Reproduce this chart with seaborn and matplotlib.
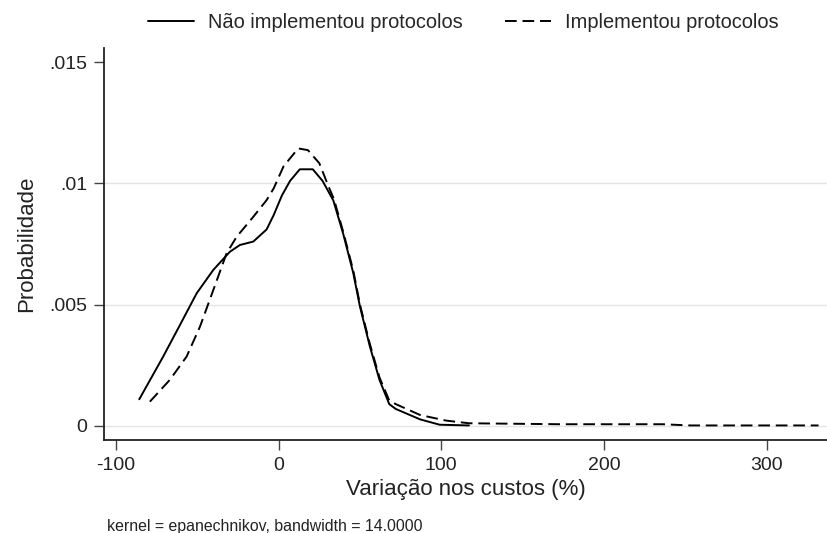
import numpy as np
import pandas as pd
import matplotlib
matplotlib.use("Agg")
import matplotlib.pyplot as plt
import seaborn as sns

# Kernel density estimates of cost variation (%) by protocol implementation
nao_x = [-85.7, -71.0, -60.7, -50.4, -40.2, -30.0, -23.8, -15.6, -7.4, -3.0, 2.0,
         7.0, 13.0, 21.0, 27.0, 33.6, 39.7, 45.9, 50.0, 56.0, 62.0, 68.0, 72.0,
         87.0, 99.0, 117.0]
nao_y = [0.00110, 0.00286, 0.00416, 0.00547, 0.00643, 0.00718, 0.00746, 0.00760,
         0.00810, 0.00870, 0.00950, 0.01010, 0.01058, 0.01058, 0.01010, 0.00930,
         0.00792, 0.00630, 0.00492, 0.00330, 0.00190, 0.00090, 0.00070, 0.00027,
         0.00005, 0.00002]

impl_x = [-79.2, -66.9, -56.6, -48.4, -40.2, -32.0, -25.8, -15.6, -7.4, -3.0, 3.0,
          12.0, 18.0, 25.0, 30.5, 34.0, 39.7, 45.9, 50.0, 56.0, 62.0, 68.0, 72.0,
          87.0, 103.0, 117.0, 173.0, 236.0, 253.0, 332.0]
impl_y = [0.00100, 0.00190, 0.00286, 0.00409, 0.00560, 0.00712, 0.00780, 0.00862,
          0.00931, 0.00980, 0.01070, 0.01144, 0.01137, 0.01083, 0.00990, 0.00935,
          0.00800, 0.00640, 0.00500, 0.00340, 0.00200, 0.00105, 0.00090, 0.00045,
          0.00022, 0.00011, 0.00007, 0.00007, 0.00002, 0.00002]

grupos = ["Não implementou protocolos", "Implementou protocolos"]
x_ticks = [-100, 0, 100, 200, 300]
y_ticks = [0, 0.005, 0.01, 0.015]
y_ticklabels = ["0", ".005", ".01", ".015"]

df = pd.concat([
    pd.DataFrame({"x": nao_x, "y": nao_y, "grupo": grupos[0]}),
    pd.DataFrame({"x": impl_x, "y": impl_y, "grupo": grupos[1]}),
], ignore_index=True)

sns.set_theme(style="white")
plt.rcParams["font.family"] = ["Liberation Sans", "DejaVu Sans"]

fig = plt.figure(figsize=(8.27, 5.33), dpi=100)
ax = fig.add_axes([104 / 827, 93 / 533, 723 / 827, 392 / 533])

for v in y_ticks[:-1]:
    ax.axhline(v, color="#e4e4e4", lw=1.0, zorder=0)

sns.lineplot(data=df, x="x", y="y", style="grupo", style_order=grupos,
             dashes={grupos[0]: "", grupos[1]: (6, 3)},
             color="black", lw=1.4, sort=False, estimator=None, ax=ax)

handles, labels = ax.get_legend_handles_labels()
ax.get_legend().remove()
fig.legend(handles, labels, loc="center", bbox_to_anchor=(463 / 827, 1 - 22 / 533),
           ncol=2, frameon=False, fontsize=14.4, handlelength=2.3,
           columnspacing=2.1, handletextpad=0.7)

ax.set_xlim(-107.4, 337.2)
ax.set_ylim(-0.00058, 0.01558)
ax.set_xticks(x_ticks)
ax.set_xticklabels([str(t) for t in x_ticks])
ax.set_yticks(y_ticks)
ax.set_yticklabels(y_ticklabels)

for side in ["top", "right"]:
    ax.spines[side].set_visible(False)
for side in ["left", "bottom"]:
    ax.spines[side].set_color("#222222")
    ax.spines[side].set_linewidth(1.3)

ax.tick_params(axis="both", direction="out", length=7, width=1.0, color="#444444",
               labelsize=14, labelcolor="#222222", pad=5, left=True, bottom=True)

ax.set_xlabel("Variação nos custos (%)", fontsize=16, color="#222222", labelpad=4)
ax.set_ylabel("Probabilidade", fontsize=16, color="#222222", labelpad=9)

fig.text(107 / 827, 1 - 526 / 533, "kernel = epanechnikov, bandwidth = 14.0000",
         fontsize=11.4, color="#222222", va="center", ha="left")

fig.savefig("out.png", dpi=100, facecolor="white")
